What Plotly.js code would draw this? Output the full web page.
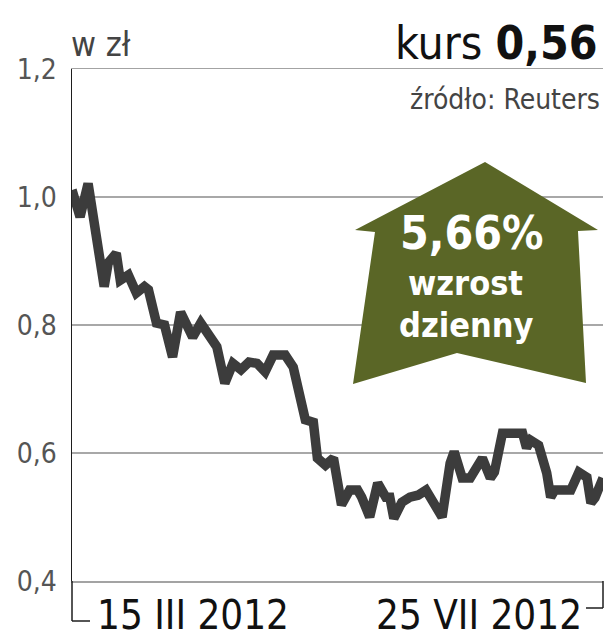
<!DOCTYPE html>
<html>
<head>
<meta charset="utf-8">
<script src="https://cdn.plot.ly/plotly-3.0.1.min.js"></script>
<style>
  html, body { margin: 0; padding: 0; background: #ffffff; }
  #chart { width: 605px; height: 640px; }
</style>
</head>
<body>
<div id="chart"></div>
<script>
// ---- data ----
const dates = [
  '2012-03-15','2012-03-17','2012-03-19','2012-03-23','2012-03-24','2012-03-26','2012-03-27','2012-03-29','2012-03-31',
  '2012-04-02','2012-04-03','2012-04-05','2012-04-07','2012-04-09','2012-04-11','2012-04-14','2012-04-16','2012-04-17','2012-04-18',
  '2012-04-20','2012-04-22','2012-04-24','2012-04-26','2012-04-28','2012-04-30','2012-05-02','2012-05-04','2012-05-07','2012-05-09',
  '2012-05-11','2012-05-12','2012-05-14','2012-05-15','2012-05-17','2012-05-19','2012-05-21','2012-05-23','2012-05-25','2012-05-26',
  '2012-05-28','2012-05-30','2012-06-01','2012-06-02','2012-06-03','2012-06-05','2012-06-07','2012-06-09','2012-06-11','2012-06-13',
  '2012-06-15','2012-06-17','2012-06-18','2012-06-20','2012-06-22','2012-06-25','2012-06-27','2012-06-28','2012-06-30','2012-07-02',
  '2012-07-05','2012-07-06','2012-07-07','2012-07-09','2012-07-11','2012-07-12','2012-07-13','2012-07-17','2012-07-19','2012-07-21',
  '2012-07-22','2012-07-23','2012-07-25'
];
const prices = [
  1.011, 0.969, 1.021, 0.86, 0.897, 0.912, 0.870, 0.878, 0.85,
  0.86, 0.855, 0.803, 0.80, 0.75, 0.82, 0.781, 0.803, 0.792, 0.787,
  0.766, 0.709, 0.74, 0.730, 0.742, 0.74, 0.727, 0.753, 0.753, 0.734,
  0.678, 0.652, 0.648, 0.592, 0.581, 0.592, 0.519, 0.542, 0.542, 0.531,
  0.50, 0.553, 0.531, 0.531, 0.498, 0.523, 0.531, 0.534, 0.542, 0.519,
  0.50, 0.584, 0.602, 0.561, 0.561, 0.592, 0.561, 0.570, 0.631, 0.631,
  0.631, 0.608, 0.620, 0.612, 0.569, 0.531, 0.542, 0.542, 0.570, 0.562,
  0.522, 0.530, 0.561
];
const yTickVals = [0.4, 0.6, 0.8, 1.0, 1.2];
const yTickText = ['0,4', '0,6', '0,8', '1,0', '1,2'];
const xLabels = ['15 III 2012', '25 VII 2012'];
const unitLabel = 'w zł';
const rateLabel = 'kurs <b>0,56</b>';
const sourceLabel = 'źródło: Reuters';
const changeLabel = '5,66%';
const changeWords = ['wzrost', 'dzienny'];

// ---- layout helpers (pixel -> paper) ----
const W = 605, H = 640;
const M = { l: 72, r: 2, t: 69, b: 59 };
const PW = W - M.l - M.r, PH = H - M.t - M.b;
const px = x => (x - M.l) / PW;
const py = y => (H - M.b - y) / PH;

const FONT = 'DejaVu Sans Condensed, Liberation Sans Narrow, DejaVu Sans, sans-serif';
const OLIVE = '#5a6626';

const arrowPts = [[485,162],[598,230],[578,231],[586,383],[457,353],[353,384],[375,232],[355,230]];
const arrowPath = arrowPts.map((p, i) => (i ? 'L' : 'M') + px(p[0]).toFixed(4) + ',' + py(p[1]).toFixed(4)).join(' ') + ' Z';

const trace = {
  x: dates,
  y: prices,
  type: 'scatter',
  mode: 'lines',
  line: { color: '#3c3c3c', width: 9.5, shape: 'linear' },
  cliponaxis: false,
  hoverinfo: 'skip'
};

const layout = {
  width: W, height: H,
  margin: M,
  paper_bgcolor: '#ffffff',
  plot_bgcolor: '#ffffff',
  showlegend: false,
  font: { family: FONT, color: '#333' },
  xaxis: {
    type: 'date',
    range: [dates[0], dates[dates.length - 1]],
    showticklabels: false,
    ticks: '',
    showgrid: false,
    zeroline: false,
    showline: true,
    mirror: true,
    linecolor: '#a3a3a3',
    linewidth: 1.5,
    fixedrange: true
  },
  yaxis: {
    range: [0.4, 1.2],
    tickvals: yTickVals,
    ticktext: yTickText,
    ticks: '',
    ticklabelstandoff: 8,
    tickfont: { family: FONT, size: 28, color: '#555555' },
    showgrid: true,
    gridcolor: '#a8a8a8',
    gridwidth: 1.5,
    zeroline: false,
    showline: true,
    linecolor: '#1e1e1e',
    linewidth: 1.5,
    fixedrange: true
  },
  shapes: [
    { type: 'path', xref: 'paper', yref: 'paper', path: arrowPath, fillcolor: OLIVE, line: { width: 0 }, layer: 'above' },
    // bottom brackets
    { type: 'line', xref: 'paper', yref: 'paper', x0: 0, x1: 0, y0: 0, y1: py(621), line: { color: '#1e1e1e', width: 1.5 } },
    { type: 'line', xref: 'paper', yref: 'paper', x0: 0, x1: px(90), y0: py(621), y1: py(621), line: { color: '#1e1e1e', width: 1.5 } },
    { type: 'line', xref: 'paper', yref: 'paper', x0: 1, x1: 1, y0: 0, y1: py(608), line: { color: '#1e1e1e', width: 1.5 } },
    { type: 'line', xref: 'paper', yref: 'paper', x0: px(586), x1: 1, y0: py(608), y1: py(608), line: { color: '#1e1e1e', width: 1.5 } }
  ],
  annotations: [
    { text: unitLabel, xref: 'paper', yref: 'paper', x: px(69), y: py(44), xanchor: 'left', yanchor: 'middle', showarrow: false,
      font: { family: FONT, size: 34, color: '#444' } },
    { text: rateLabel, xref: 'paper', yref: 'paper', x: px(600), y: py(43), xanchor: 'right', yanchor: 'middle', showarrow: false,
      font: { family: FONT, size: 46, color: '#111' } },
    { text: sourceLabel, xref: 'paper', yref: 'paper', x: px(602), y: py(99), xanchor: 'right', yanchor: 'middle', showarrow: false,
      font: { family: FONT, size: 28, color: '#444' } },
    { text: xLabels[0], xref: 'paper', yref: 'paper', x: px(95), y: py(615), xanchor: 'left', yanchor: 'middle', showarrow: false,
      font: { family: FONT, size: 40, color: '#111' } },
    { text: xLabels[1], xref: 'paper', yref: 'paper', x: px(584), y: py(615), xanchor: 'right', yanchor: 'middle', showarrow: false,
      font: { family: FONT, size: 40, color: '#111' } },
    { text: changeLabel, xref: 'paper', yref: 'paper', x: px(472), y: py(233), xanchor: 'center', yanchor: 'middle', showarrow: false,
      font: { family: FONT, size: 46, color: '#ffffff', weight: 'bold' } },
    { text: changeWords[0], xref: 'paper', yref: 'paper', x: px(465), y: py(283), xanchor: 'center', yanchor: 'middle', showarrow: false,
      font: { family: FONT, size: 34, color: '#ffffff', weight: 'bold' } },
    { text: changeWords[1], xref: 'paper', yref: 'paper', x: px(466), y: py(325), xanchor: 'center', yanchor: 'middle', showarrow: false,
      font: { family: FONT, size: 34, color: '#ffffff', weight: 'bold' } }
  ]
};

Plotly.newPlot('chart', [trace], layout, { staticPlot: true, displayModeBar: false });
</script>
</body>
</html>
